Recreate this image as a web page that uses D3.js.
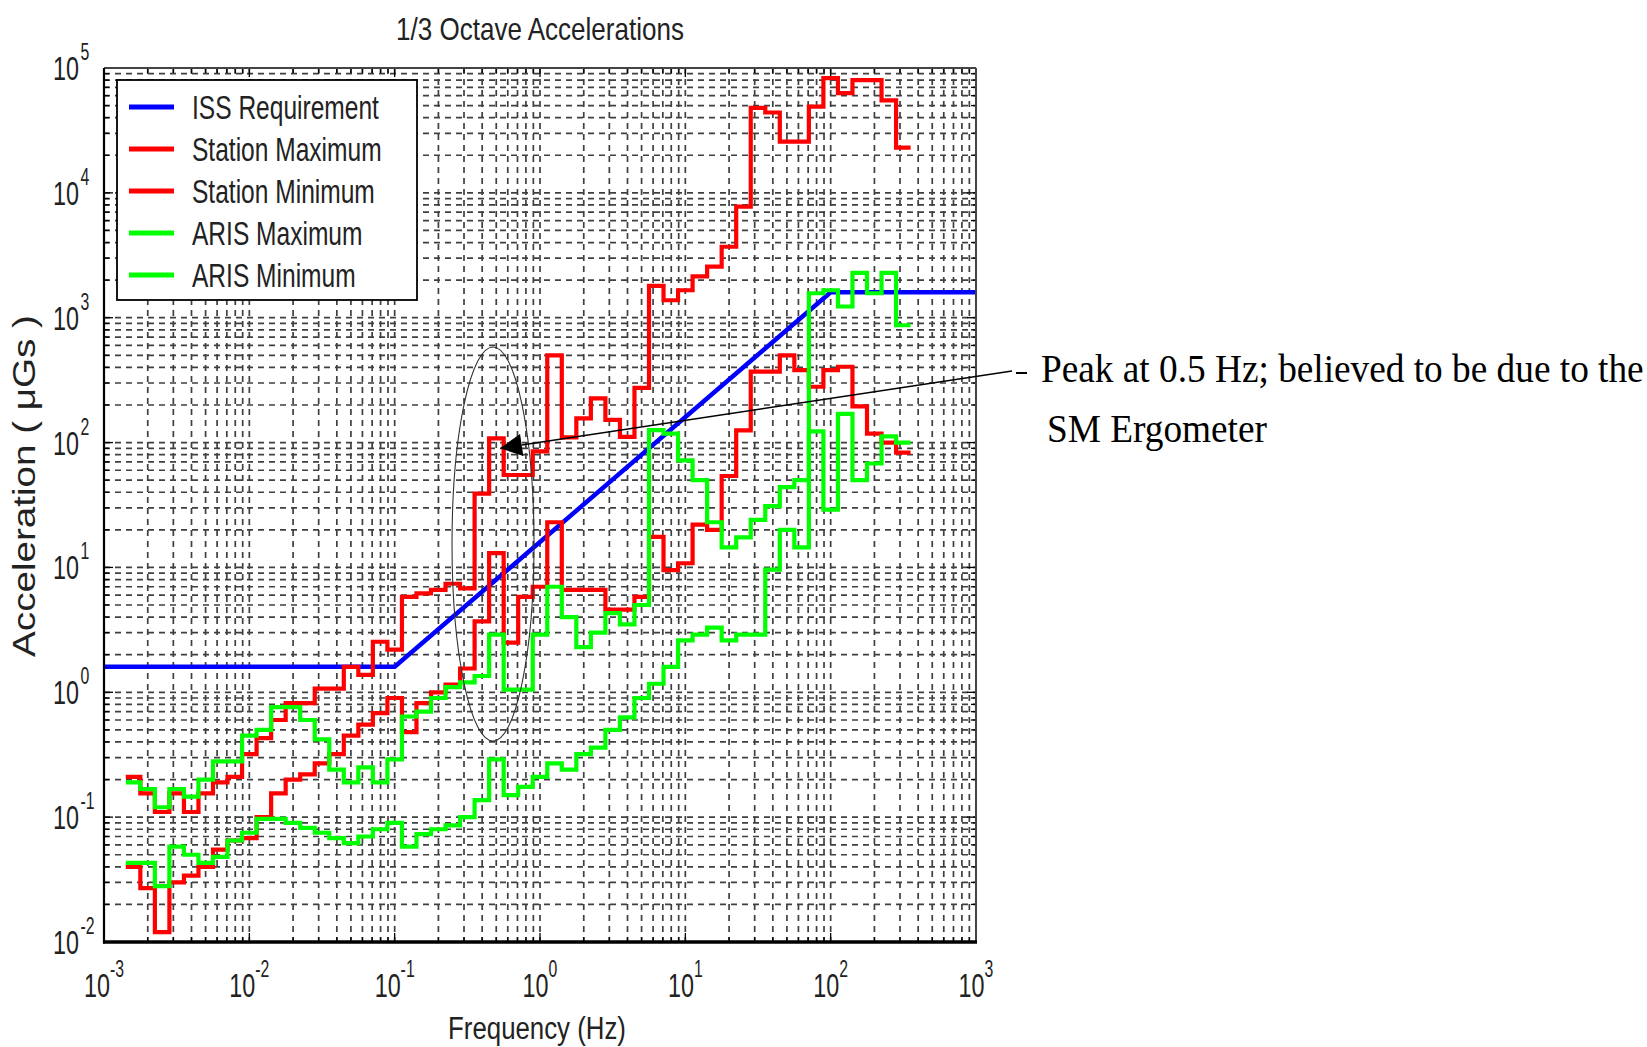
<!DOCTYPE html>
<html>
<head>
<meta charset="utf-8">
<script src="https://cdn.jsdelivr.net/npm/d3@7"></script>
<style>
  body { margin: 0; background: #ffffff; }
  svg { display: block; }
</style>
</head>
<body>
<svg id="chart" width="1647" height="1047"></svg>
<script>
// ---------------- DATA ----------------
// 1/3-octave band centres, as log10(Hz)
const bandExponents = [-2.8,-2.7,-2.6,-2.5,-2.4,-2.3,-2.2,-2.1,-2.0,-1.9,
  -1.8,-1.7,-1.6,-1.5,-1.4,-1.3,-1.2,-1.1,-1.0,-0.9,
  -0.8,-0.7,-0.6,-0.5,-0.4,-0.3,-0.2,-0.1,0.0,0.1,
  0.2,0.3,0.4,0.5,0.6,0.7,0.8,0.9,1.0,1.1,
  1.2,1.3,1.4,1.5,1.6,1.7,1.8,1.9,2.0,2.1,
  2.2,2.3,2.4,2.5];

// ISS requirement (μg) – breakpoints
const issFreq  = [0.001, 0.1, 100, 1000];
const issAccel = [1.6, 1.6, 1600, 1600];

// Station Maximum (μg) per band
const stationMax = [0.21,0.155,0.11,0.155,0.11,0.155,0.19,0.21,0.32,0.43,
  0.6,0.82,0.82,1.07,1.07,1.6,1.38,2.54,2.2,5.8,
  6.2,6.6,7.4,6.8,39,108,55,55,85,500,
  110,156,226,152,111,274,1800,1380,1660,2140,
  2570,3700,7750,48000,44000,25700,25700,49000,83000,63000,
  80000,80000,55000,23000];

// Station Minimum (μg) per band
const stationMin = [0.040,0.027,0.012,0.030,0.034,0.040,0.055,0.065,0.068,0.10,
  0.155,0.20,0.22,0.27,0.32,0.45,0.55,0.68,0.9,0.48,
  0.82,1.0,1.15,1.55,3.7,13,2.5,5.8,7.0,23,
  6.6,6.6,6.6,4.6,4.6,5.8,17.6,9.5,10.8,22,
  20,54,125,370,370,500,380,280,380,405,
  195,118,100,83];

// ARIS Maximum (μg) per band
const arisMax = [0.19,0.168,0.12,0.168,0.146,0.2,0.28,0.28,0.45,0.5,
  0.76,0.76,0.6,0.42,0.24,0.19,0.25,0.19,0.29,0.64,
  0.7,0.9,1.1,1.2,1.35,2.9,1.05,1.05,2.9,7.0,
  4.0,2.3,3.0,4.3,3.5,5.0,126,118,72,50,
  23,14.5,17.4,24,31,44,50,1570,1660,1230,
  2290,1570,2290,870];

// ARIS Minimum (μg) per band
const arisMin = [0.043,0.043,0.028,0.058,0.05,0.043,0.048,0.065,0.075,0.097,
  0.097,0.09,0.082,0.075,0.068,0.062,0.07,0.08,0.09,0.058,
  0.073,0.08,0.086,0.1,0.137,0.29,0.15,0.175,0.21,0.27,
  0.24,0.32,0.36,0.5,0.63,0.9,1.17,1.6,2.6,2.9,
  3.3,2.6,2.9,2.9,9.6,20,14.5,123,29,170,
  50,68,112,100];

const xTickExps = [-3,-2,-1,0,1,2,3];
const yTickExps = [-2,-1,0,1,2,3,4,5];
const legendLabels = ["ISS Requirement","Station Maximum","Station Minimum","ARIS Maximum","ARIS Minimum"];
const seriesColors = ["#0000ff","#ff0000","#ff0000","#00ff00","#00ff00"];

const titleText = "1/3 Octave Accelerations";
const xLabelText = "Frequency (Hz)";
const yLabelText = "Acceleration ( \u03BCGs )";
const noteLines = ["Peak at 0.5 Hz; believed to be due to the", "SM Ergometer"];

// ---------------- LAYOUT ----------------
const P = { left: 104, right: 976, top: 68, bottom: 942 };
const svg = d3.select("#chart");
const SANS = "'Liberation Sans', Arial, Helvetica, sans-serif";
const SERIF = "'Liberation Serif', 'Times New Roman', serif";

const x = d3.scaleLog().domain([1e-3, 1e3]).range([P.left, P.right]);
const y = d3.scaleLog().domain([1e-2, 1e5]).range([P.bottom, P.top]);

svg.append("rect").attr("width", 1647).attr("height", 1047).attr("fill", "#fff");

// text helper: horizontally compressed text fitted to a width (or given scale)
function label(parent, px, py, str, o) {
  const g = parent.append("g");
  const t = g.append("text")
    .attr("font-family", o.family || SANS)
    .attr("font-size", o.size)
    .attr("text-anchor", o.anchor || "start")
    .attr("fill", o.fill || "#000")
    .text(str);
  let sx = o.sx || 1;
  if (o.width) sx = o.width / t.node().getComputedTextLength();
  g.attr("transform", `translate(${px},${py})` + (o.rotate ? ` rotate(${o.rotate})` : "") + ` scale(${sx},1)`);
  return sx;
}

// ---------------- GRID ----------------
svg.append("defs").append("clipPath").attr("id", "plotclip")
  .append("rect").attr("x", P.left).attr("y", P.top)
  .attr("width", P.right - P.left).attr("height", P.bottom - P.top);

const grid = svg.append("g").attr("stroke", "#111").attr("stroke-width", 1.7)
  .attr("stroke-dasharray", "6,5").attr("opacity", 0.8);
const xGrid = x.ticks().filter(v => v > 1e-3 * 1.0001 && v < 1e3 * 0.9999);
const yGrid = y.ticks().filter(v => v > 1e-2 * 1.0001 && v < 1e5 * 0.9999);
grid.selectAll("line.xg").data(xGrid).join("line")
  .attr("x1", d => x(d)).attr("x2", d => x(d))
  .attr("y1", P.top).attr("y2", P.bottom);
grid.selectAll("line.yg").data(yGrid).join("line")
  .attr("x1", P.left).attr("x2", P.right)
  .attr("y1", d => y(d)).attr("y2", d => y(d));

// ---------------- TICKS (inward, all four sides) ----------------
const ticks = svg.append("g").attr("stroke", "#000").attr("stroke-width", 1.3);
const isMajor = v => Math.abs(Math.log10(v) - Math.round(Math.log10(v))) < 1e-6;
x.ticks().forEach(v => {
  const L = isMajor(v) ? 9 : 5;
  ticks.append("line").attr("x1", x(v)).attr("x2", x(v)).attr("y1", P.bottom).attr("y2", P.bottom - L);
  ticks.append("line").attr("x1", x(v)).attr("x2", x(v)).attr("y1", P.top).attr("y2", P.top + L);
});
y.ticks().forEach(v => {
  const L = isMajor(v) ? 9 : 5;
  ticks.append("line").attr("y1", y(v)).attr("y2", y(v)).attr("x1", P.left).attr("x2", P.left + L);
  ticks.append("line").attr("y1", y(v)).attr("y2", y(v)).attr("x1", P.right).attr("x2", P.right - L);
});

// ---------------- CURVES ----------------
const plot = svg.append("g").attr("clip-path", "url(#plotclip)");
const issLine = d3.line().x(d => x(d[0])).y(d => y(d[1]));
plot.append("path")
  .attr("d", issLine(issFreq.map((f, i) => [f, issAccel[i]])))
  .attr("fill", "none").attr("stroke", seriesColors[0]).attr("stroke-width", 4.5);

const stair = d3.line().x(d => x(d[0])).y(d => y(d[1])).curve(d3.curveStepAfter);
function stairPoints(values) {
  const pts = bandExponents.map((c, i) => [Math.pow(10, c - 0.05), values[i]]);
  const n = bandExponents.length - 1;
  pts.push([Math.pow(10, bandExponents[n] + 0.05), values[n]]);
  return pts;
}
[stationMax, stationMin, arisMax, arisMin].forEach((vals, k) => {
  plot.append("path")
    .attr("d", stair(stairPoints(vals)))
    .attr("fill", "none").attr("stroke", seriesColors[k + 1])
    .attr("stroke-width", 4.2).attr("stroke-linejoin", "miter");
});

// ---------------- FRAME ----------------
svg.append("line").attr("x1", P.left).attr("x2", P.right).attr("y1", P.top).attr("y2", P.top)
  .attr("stroke", "#444").attr("stroke-width", 2);
svg.append("line").attr("x1", P.right).attr("x2", P.right).attr("y1", P.top).attr("y2", P.bottom)
  .attr("stroke", "#444").attr("stroke-width", 2);
svg.append("line").attr("x1", P.left).attr("x2", P.left).attr("y1", P.top).attr("y2", P.bottom + 1.5)
  .attr("stroke", "#000").attr("stroke-width", 2.2);
svg.append("line").attr("x1", P.left - 1).attr("x2", P.right + 1).attr("y1", P.bottom).attr("y2", P.bottom)
  .attr("stroke", "#000").attr("stroke-width", 3.5);

// ---------------- TICK LABELS ----------------
const tl = svg.append("g");
const probe = tl.append("text").attr("font-family", SANS).attr("font-size", 34).text("10");
const tickSx = 26 / probe.node().getComputedTextLength();
probe.remove();

xTickExps.forEach(e => {
  const g = tl.append("g").attr("transform", `translate(${x(Math.pow(10, e))},997) scale(${tickSx},1)`);
  const t = g.append("text").attr("font-family", SANS).attr("font-size", 34)
    .attr("text-anchor", "middle").attr("fill", "#222");
  t.append("tspan").text("10");
  t.append("tspan").attr("font-size", 23).attr("dy", -20).text(String(e));
});
yTickExps.forEach(e => {
  const ty = y(Math.pow(10, e));
  label(tl, 79, ty + 12, "10", { size: 34, anchor: "end", sx: tickSx, fill: "#222" });
  label(tl, 80.5, ty - 8, String(e), { size: 23, anchor: "start", sx: tickSx, fill: "#222" });
});

// ---------------- TITLES ----------------
label(svg, 540, 40, titleText, { size: 31, anchor: "middle", width: 288, fill: "#222" });
label(svg, 537, 1039, xLabelText, { size: 31, anchor: "middle", width: 178, fill: "#222" });
label(svg, 35, 486, yLabelText, { size: 31, anchor: "middle", width: 342, rotate: -90, fill: "#222" });

// ---------------- LEGEND ----------------
const lg = svg.append("g");
lg.append("rect").attr("x", 117).attr("y", 80).attr("width", 300).attr("height", 220)
  .attr("fill", "#fff").attr("stroke", "#000").attr("stroke-width", 1.8);
const legY = d3.scalePoint().domain(legendLabels).range([107, 275]);
const probe2 = lg.append("text").attr("font-family", SANS).attr("font-size", 34).text(legendLabels[0]);
const legSx = 187 / probe2.node().getComputedTextLength();
probe2.remove();
legendLabels.forEach((name, i) => {
  const yy = legY(name);
  lg.append("line").attr("x1", 129).attr("x2", 174).attr("y1", yy).attr("y2", yy)
    .attr("stroke", seriesColors[i]).attr("stroke-width", 5);
  label(lg, 192, yy + 12, name, { size: 34, anchor: "start", sx: legSx, fill: "#222" });
});

// ---------------- ANNOTATION ----------------
const ann = svg.append("g");
const ell = { cx: x(0.475), cy: y(15.4) };
ann.append("ellipse").attr("cx", ell.cx).attr("cy", ell.cy).attr("rx", 41).attr("ry", 197)
  .attr("fill", "none").attr("stroke", "#333").attr("stroke-width", 1.1);
const tip = [x(0.53), y(90)];
const tail = [1012, 371];
const dx = tail[0] - tip[0], dy = tail[1] - tip[1];
const len = Math.hypot(dx, dy), ux = dx / len, uy = dy / len;
const hb = [tip[0] + ux * 22, tip[1] + uy * 22];
ann.append("line").attr("x1", hb[0]).attr("y1", hb[1]).attr("x2", tail[0]).attr("y2", tail[1])
  .attr("stroke", "#000").attr("stroke-width", 1.4);
ann.append("polygon")
  .attr("points", [tip, [hb[0] - uy * 11, hb[1] + ux * 11], [hb[0] + uy * 11, hb[1] - ux * 11]]
    .map(p => p.join(",")).join(" "))
  .attr("fill", "#000");
ann.append("line").attr("x1", 1016).attr("x2", 1027).attr("y1", 373).attr("y2", 373)
  .attr("stroke", "#000").attr("stroke-width", 2);
const noteSx = label(ann, 1041, 382, noteLines[0], { family: SERIF, size: 40, anchor: "start", width: 603 });
label(ann, 1047, 442, noteLines[1], { family: SERIF, size: 40, anchor: "start", sx: noteSx });
</script>
</body>
</html>
